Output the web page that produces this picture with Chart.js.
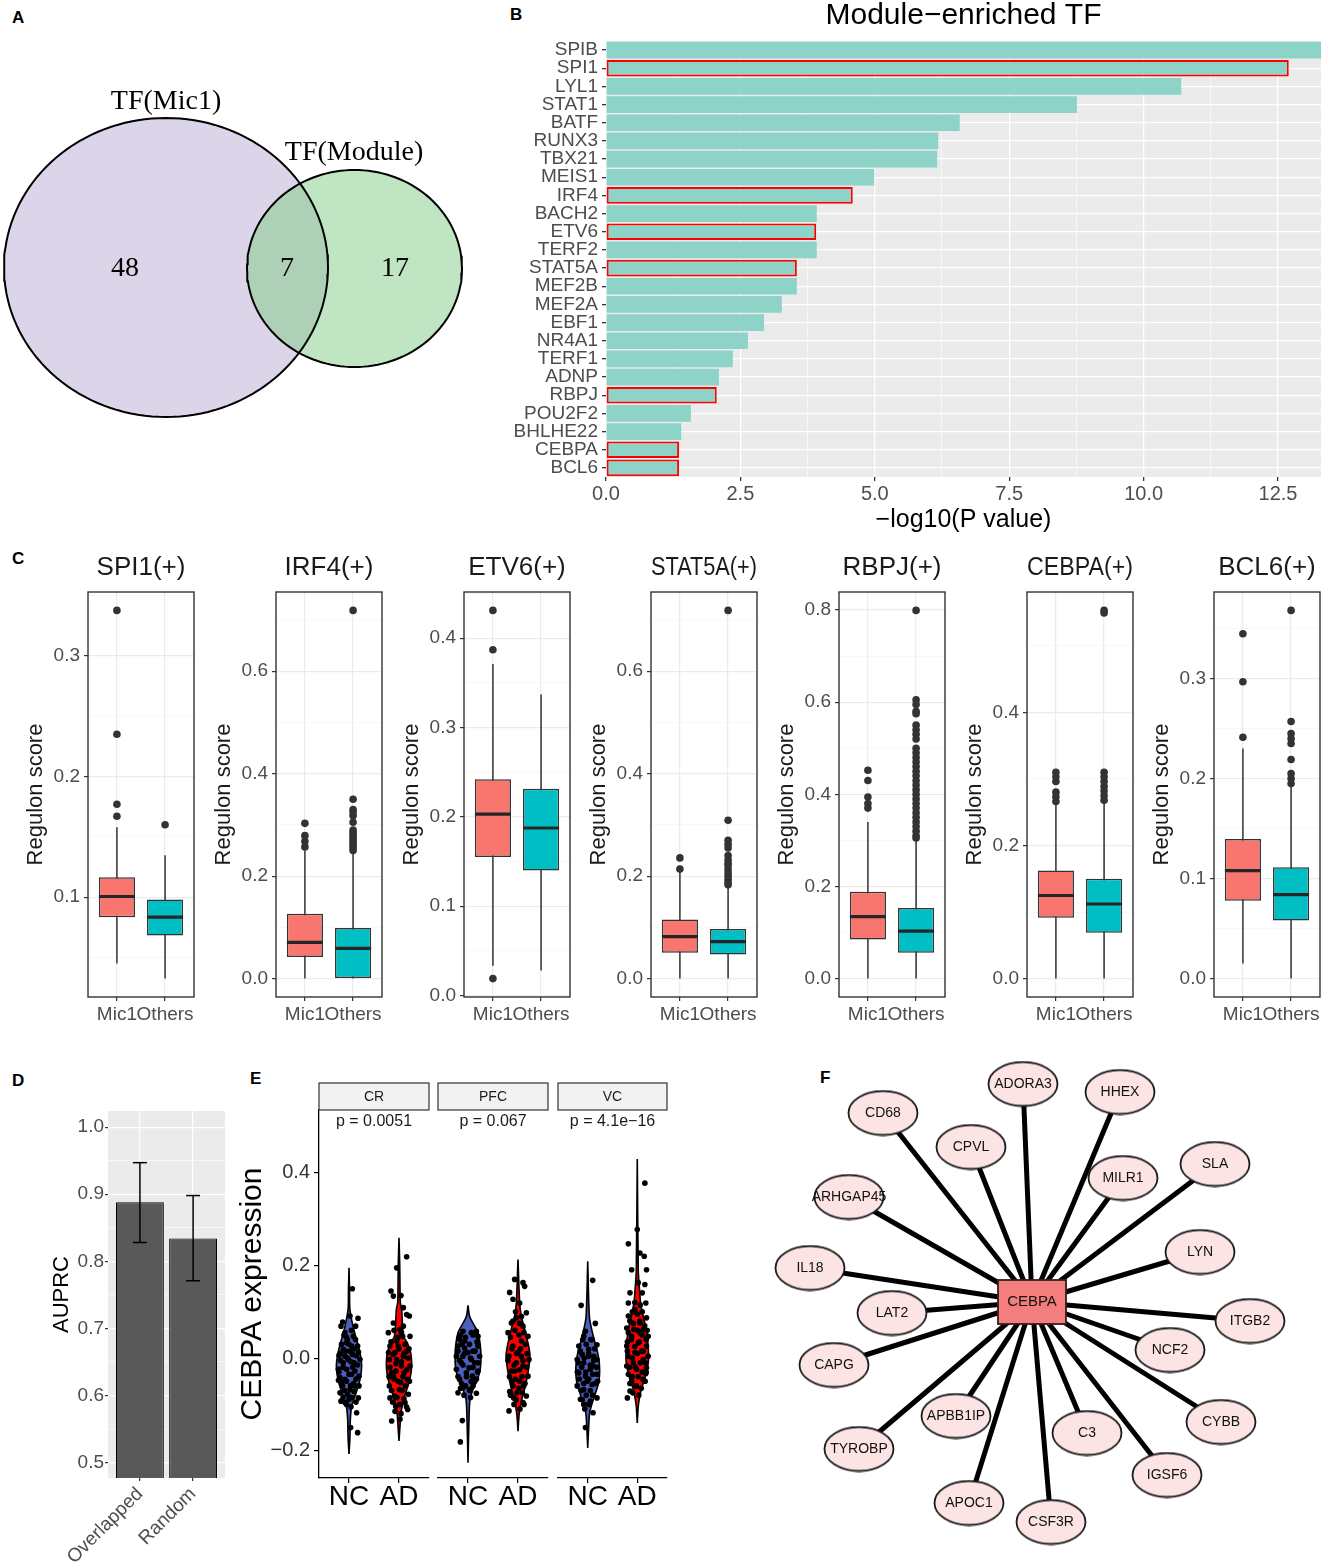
<!DOCTYPE html>
<html>
<head>
<meta charset="utf-8">
<script src="https://cdn.jsdelivr.net/npm/chart.js@4.4.1/dist/chart.umd.min.js"></script>
<style>
  body { margin: 0; background: #fff; }
  #fig { position: relative; width: 1325px; height: 1562px; overflow: hidden; background: #fff; }
  .tag { position: absolute; font: bold 17px 'Liberation Sans', Arial, sans-serif; line-height: 17px; color: #000; }
</style>
</head>
<body>
<div id="fig">
  <div class="tag" style="left:12px;top:9px">A</div>
  <div class="tag" style="left:510px;top:6px">B</div>
  <div class="tag" style="left:12px;top:550px">C</div>
  <div class="tag" style="left:12px;top:1072px">D</div>
  <div class="tag" style="left:250px;top:1070px">E</div>
  <div class="tag" style="left:820px;top:1069px">F</div>
</div>
<script>
// ---------- data ----------

// A: Venn counts
const vennSetNames = ['TF(Mic1)', 'TF(Module)'];
const vennCounts = [48, 7, 17]; // Mic1 only, both, Module only

// B: module-enriched TF
const tfNames = ['SPIB', 'SPI1', 'LYL1', 'STAT1', 'BATF', 'RUNX3', 'TBX21', 'MEIS1', 'IRF4', 'BACH2', 'ETV6', 'TERF2',
  'STAT5A', 'MEF2B', 'MEF2A', 'EBF1', 'NR4A1', 'TERF1', 'ADNP', 'RBPJ', 'POU2F2', 'BHLHE22', 'CEBPA', 'BCL6'];
const tfLogP = [13.3, 12.7, 10.7, 8.76, 6.58, 6.18, 6.16, 4.99, 4.59, 3.92, 3.91, 3.92,
  3.55, 3.55, 3.27, 2.94, 2.64, 2.36, 2.10, 2.06, 1.58, 1.40, 1.36, 1.36];
const tfOverlap = ['SPI1', 'IRF4', 'ETV6', 'STAT5A', 'RBPJ', 'CEBPA', 'BCL6'];
const xTicksB = [0, 1.25, 2.5, 3.75, 5, 6.25, 7.5, 8.75, 10, 11.25, 12.5];

// C: regulon score boxplots  [Mic1, Others]
const regulons = ['SPI1(+)', 'IRF4(+)', 'ETV6(+)', 'STAT5A(+)', 'RBPJ(+)', 'CEBPA(+)', 'BCL6(+)'];
const groups = ['Mic1', 'Others'];
const boxLow  = [[0.045, 0.0326], [0, 0], [0.0335, 0.028], [0, 0], [0, 0], [0, 0], [0.015, 0]];
const boxQ1   = [[0.0835, 0.0683], [0.042, 0.0], [0.155, 0.140], [0.0506, 0.047], [0.085, 0.056], [0.0913, 0.069], [0.0777, 0.058]];
const boxMed  = [[0.1006, 0.0835], [0.0707, 0.059], [0.203, 0.1875], [0.0818, 0.072], [0.1345, 0.103], [0.1248, 0.112], [0.108, 0.084]];
const boxQ3   = [[0.1165, 0.098], [0.1265, 0.0986], [0.242, 0.2315], [0.1155, 0.097], [0.1885, 0.153], [0.1622, 0.150], [0.1394, 0.1114]];
const boxHigh = [[0.158, 0.1347], [0.25, 0.245], [0.371, 0.337], [0.2095, 0.18], [0.34, 0.301], [0.2637, 0.265], [0.23, 0.193]];
const outMic1 = [
  [0.3375, 0.235, 0.177, 0.167],
  [0.303, 0.279, 0.268, 0.257],
  [0.431, 0.387, 0.019],
  [0.2356, 0.214],
  [0.452, 0.430, 0.394, 0.38, 0.37],
  [0.31, 0.303, 0.296, 0.28, 0.273, 0.266],
  [0.3446, 0.2967, 0.2412]
];
const outOthers = [
  [0.160],
  [0.7186, 0.35, 0.33, 0.325, 0.318, 0.305, 0.29, 0.285, 0.28, 0.275, 0.27, 0.265, 0.26, 0.255, 0.25],
  [],
  [0.7186, 0.309, 0.27, 0.262, 0.255, 0.24, 0.232, 0.225, 0.22, 0.213, 0.206, 0.2, 0.194, 0.188, 0.183],
  [0.799, 0.605, 0.595, 0.58, 0.575, 0.55, 0.54, 0.53, 0.52, 0.5, 0.49, 0.48, 0.47, 0.46, 0.45, 0.44, 0.43,
   0.42, 0.41, 0.40, 0.39, 0.38, 0.37, 0.36, 0.35, 0.34, 0.33, 0.32, 0.31, 0.305],
  [0.553, 0.549, 0.31, 0.303, 0.296, 0.289, 0.282, 0.275, 0.268],
  [0.368, 0.257, 0.245, 0.24, 0.235, 0.219, 0.205, 0.2, 0.195]
];
const majorStepC = [0.1, 0.2, 0.1, 0.2, 0.2, 0.2, 0.1];

// D: AUPRC
const methods = ['Overlapped', 'Random'];
const auprc = [0.888, 0.834];
const auprcLo = [0.828, 0.771];
const auprcHi = [0.947, 0.898];

// E: CEBPA expression by region
const regions = ['CR', 'PFC', 'VC'];
const pLabels = ['p = 0.0051', 'p = 0.067', 'p = 4.1e\u221216'];
const conds = ['NC', 'AD'];
// violin outlines: [value, half width in group units]
const violinNC = [
  [[0.195, 0], [0.15, 0.01], [0.11, 0.015], [0.09, 0.04], [0.069, 0.08], [0.047, 0.133], [0.026, 0.187], [0.004, 0.233],
   [-0.017, 0.253], [-0.039, 0.233], [-0.06, 0.187], [-0.082, 0.12], [-0.104, 0.053], [-0.132, 0.027], [-0.168, 0.02], [-0.207, 0]],
  [[0.114, 0], [0.09, 0.033], [0.069, 0.133], [0.055, 0.2], [0.033, 0.24], [0.004, 0.26], [-0.024, 0.245], [-0.046, 0.19],
   [-0.068, 0.1], [-0.089, 0.04], [-0.132, 0.02], [-0.226, 0]],
  [[0.209, 0], [0.09, 0.033], [0.062, 0.08], [0.033, 0.147], [0.012, 0.2], [-0.01, 0.233], [-0.032, 0.24], [-0.053, 0.22],
   [-0.075, 0.16], [-0.096, 0.093], [-0.118, 0.04], [-0.147, 0.02], [-0.194, 0]]
];
const violinAD = [
  [[0.26, 0], [0.2, 0.015], [0.15, 0.02], [0.12, 0.027], [0.105, 0.053], [0.076, 0.067], [0.047, 0.093], [0.033, 0.167],
   [0.012, 0.233], [-0.01, 0.253], [-0.032, 0.24], [-0.053, 0.2], [-0.075, 0.133], [-0.096, 0.08], [-0.118, 0.04], [-0.147, 0.02], [-0.179, 0]],
  [[0.213, 0], [0.12, 0.033], [0.09, 0.067], [0.069, 0.12], [0.047, 0.167], [0.026, 0.213], [0.004, 0.24], [-0.017, 0.22],
   [-0.039, 0.187], [-0.06, 0.147], [-0.082, 0.093], [-0.104, 0.047], [-0.125, 0.02], [-0.158, 0]],
  [[0.43, 0], [0.19, 0.02], [0.155, 0.04], [0.12, 0.067], [0.09, 0.12], [0.069, 0.167], [0.047, 0.2], [0.026, 0.22],
   [-0.003, 0.227], [-0.024, 0.2], [-0.046, 0.147], [-0.068, 0.08], [-0.089, 0.04], [-0.104, 0.02], [-0.14, 0]]
];
// jittered samples: [x offset from group centre, value]
const pointsNC = [
  [[.067,.150],[.18,.086],[-.127,.078],[-.16,.069],[.02,.091],[.133,.069],[-.08,.055],[.087,.047],[-.047,.033],[.173,.026],
   [-.2,.006],[.22,-.003],[-.213,-.024],[.2,-.039],[-.147,-.053],[.12,-.060],[-.18,-.075],[.187,-.086],[-.16,-.093],[.153,-.118],
   [.033,-.150],[.173,-.161],[-.08,.004],[.02,.015],[.1,-.010],[-.047,-.024],[.053,-.035],[-.08,-.046],[.02,-.068],[-.113,-.010],
   [-.013,-.003],[.073,.008],[-.033,.040],[.053,.026],[-.113,.019],[.12,-.028],[-.18,-.042],[0,-.089],[-.08,-.096],
   [-.1,.05],[.05,.06],[-.05,.045],[.13,.04],[-.15,.03],[0,.03],[.1,.02],[-.07,.015],[.15,.005],[-.17,-.005],
   [.04,-.008],[-.03,.0],[.17,-.015],[-.12,-.02],[.07,-.02],[-.2,-.03],[0,-.035],[.14,-.045],[-.05,-.05],[.09,-.055],
   [-.13,-.06],[.03,-.06],[-.09,-.07],[.1,-.072],[-.03,-.078],[.05,-.085],[-.12,-.085],[.14,-.095],[-.05,-.1],[.04,-.105],
   [-.17,.01],[.19,.013],[-.21,-.048],[.2,-.06]],
  [[-.167,.047],[-.1,.058],[.167,.058],[.2,.047],[.067,.055],[-.2,.026],[.2,.026],[-.067,.037],[-.233,.004],[.233,.004],
   [0,.012],[-.133,-.010],[.133,-.010],[-.233,-.024],[.2,-.028],[-.033,-.032],[-.167,-.046],[.133,-.050],[-.2,-.075],[.167,-.076],
   [-.1,-.064],[.033,-.068],[-.113,-.135],[-.153,-.181],[.067,-.003],[-.1,.004],[.1,.015],[.02,-.021],[-.067,.022],[.087,-.039],
   [-.15,.05],[.1,.05],[-.05,.045],[.18,.035],[-.12,.03],[.03,.03],[-.2,.015],[.14,.015],[-.07,.01],[.05,.0],
   [-.17,-.005],[.2,-.01],[-.1,-.015],[.1,-.02],[-.03,-.04],[-.2,-.04],[.17,-.045],[.06,-.05],[-.13,-.055],[-.05,-.06],
   [.1,-.06],[-.15,-.065],[.03,-.07],[-.08,-.08],[.05,-.085],[-.17,.04],[.19,-.03]],
  [[.1,.168],[-.133,.114],[-.047,.058],[.153,.075],[-.08,.047],[.087,.040],[.187,.029],[-.18,.026],[.02,.019],[-.213,-.003],
   [.187,-.003],[-.08,-.010],[.107,-.017],[-.18,-.032],[.187,-.035],[-.047,-.039],[-.213,-.060],[.087,-.057],[-.08,-.068],[.187,-.086],
   [-.147,-.089],[.053,-.093],[-.08,-.100],[.107,-.118],[-.047,-.150],[.02,.004],[-.113,.008],[.053,-.024],[-.013,-.050],[.12,.004],
   [-.1,.04],[.06,.04],[-.03,.03],[.14,.02],[-.15,.015],[.02,.01],[-.07,.0],[.12,-.005],[-.19,-.01],[.05,-.015],
   [-.12,-.02],[.18,-.02],[-.04,-.03],[.1,-.035],[-.17,-.045],[.02,-.045],[-.08,-.055],[.15,-.055],[-.13,-.07],[.05,-.07],
   [-.03,-.08],[.1,-.08],[-.11,-.09],[.02,-.1],[-.06,-.11],[.2,-.05],[-.21,-.03]]
];
const pointsAD = [
  [[.153,.219],[-.047,.195],[-.16,.145],[-.113,.134],[.04,.135],[.087,.109],[.153,.094],[-.113,.076],[.207,.091],[.087,.069],
   [-.213,.055],[.22,.047],[-.18,.026],[.153,.015],[-.193,-.003],[.22,-.017],[-.147,-.032],[.167,-.046],[-.193,-.060],[.187,-.078],
   [-.18,-.086],[.12,-.096],[-.067,-.104],[.173,-.111],[-.147,-.136],[.02,-.132],[-.047,-.003],[.053,-.017],[-.08,.012],[.087,.004],
   [-.013,.026],[-.113,-.039],[.033,-.053],[-.06,-.028],[.1,-.032],[.007,-.068],[-.093,-.082],[.073,.047],[-.047,.037],[.02,.062],
   [-.1,.06],[.05,.055],[-.02,.045],[.12,.03],[-.16,.035],[0,.02],[.1,.01],[-.12,.008],[.18,.0],[-.21,.012],
   [.05,-.008],[-.06,-.012],[.16,-.025],[-.18,-.02],[.08,-.04],[-.1,-.045],[-.02,-.05],[.13,-.06],[-.15,-.07],[.06,-.07],
   [-.04,-.085],[.1,-.088],[-.13,-.095],[.02,-.1],[.15,-.105],[-.08,-.115],[.04,-.12],[.2,.02],[-.2,-.04],[.21,-.05]],
  [[-.067,.170],[.1,.163],[.133,.155],[-.167,.142],[-.1,.127],[.033,.119],[.167,.098],[-.033,.087],[-.133,.076],[.1,.069],
   [-.2,.055],[.2,.047],[.067,.037],[-.1,.026],[-.18,.004],[.22,-.003],[-.033,-.010],[.1,-.017],[-.133,-.028],[.2,-.039],
   [.033,-.050],[-.167,-.072],[.113,-.060],[.167,-.082],[-.087,-.086],[.1,-.096],[-.18,-.114],[0,.012],[-.067,-.028],[.067,.004],
   [-.1,-.060],[-.02,-.075],
   [-.05,.1],[.07,.09],[-.1,.08],[.03,.075],[-.06,.06],[.12,.055],[-.15,.045],[.02,.05],[.15,.03],[-.12,.02],
   [.05,.02],[-.03,.01],[.18,.01],[-.2,-.005],[.1,-.005],[-.08,-.015],[.03,-.025],[.17,-.02],[-.17,-.04],[.08,-.04],
   [-.05,-.045],[.14,-.055],[-.12,-.05],[.02,-.065],[-.15,-.08],[.09,-.075],[-.04,-.09],[.12,-.1],[-.08,-.1],[.04,-.11]],
  [[.153,.378],[0,.278],[-.18,.247],[.053,.227],[.14,.220],[-.113,.191],[.187,.191],[.02,.163],[.153,.159],[-.147,.141],
   [.1,.141],[-.18,.119],[.173,.119],[-.047,.105],[-.18,.091],[.187,.087],[.053,.076],[-.213,.065],[.12,.062],[.22,.047],
   [-.113,.047],[-.213,.026],[.187,.026],[.02,.033],[-.18,.004],[.22,.004],[-.047,.012],[.12,-.003],[-.213,-.017],[.187,-.021],
   [-.013,-.024],[-.18,-.035],[.173,-.033],[-.113,-.050],[.12,-.046],[-.147,-.071],[-.027,-.060],[-.2,-.086],[.053,.055],[-.08,-.010],
   [.087,.015],[-.067,.062],
   [-.05,.12],[.06,.115],[-.1,.1],[.1,.1],[0,.095],[-.15,.08],[.05,.08],[.15,.07],[-.08,.075],[-.18,.055],
   [0,.06],[.1,.05],[-.12,.04],[.18,.04],[.04,.035],[-.05,.025],[-.2,.015],[.12,.015],[0,.01],[-.1,.0],
   [.16,-.01],[.06,-.01],[-.16,-.02],[-.04,-.02],[.1,-.03],[-.1,-.04],[.02,-.04],[.16,-.05],[-.15,-.055],[-.02,-.06],
   [.08,-.065],[-.09,-.075],[.03,-.08],[.2,.06],[-.2,.035],[.18,-.03]]
];

// F: CEBPA regulon network (layout coordinates)
const hubGene = 'CEBPA';
const hubPos = [1032, 1302];
const targetGenes = ['ADORA3', 'HHEX', 'CD68', 'CPVL', 'SLA', 'MILR1', 'ARHGAP45', 'LYN', 'IL18', 'LAT2',
  'ITGB2', 'NCF2', 'CAPG', 'APBB1IP', 'C3', 'CYBB', 'TYROBP', 'IGSF6', 'APOC1', 'CSF3R'];
const layoutX = [1023, 1120, 883, 971, 1215, 1123, 849, 1200, 810, 892, 1250, 1170, 834, 956, 1087, 1221, 859, 1167, 969, 1051];
const layoutY = [1084, 1092, 1113, 1147, 1164, 1178, 1197, 1252, 1268, 1313, 1321, 1350, 1365, 1416, 1433, 1422, 1449, 1475, 1503, 1522];

// ---------- helpers ----------
const fontSans = "'Liberation Sans', Arial, Helvetica, sans-serif";
const fontSerif = "'Liberation Serif', 'Times New Roman', serif";
Chart.defaults.font.family = fontSans;
Chart.defaults.color = '#4d4d4d';
Chart.defaults.animation = false;
Chart.defaults.events = [];
Chart.defaults.layout.autoPadding = false;
Chart.defaults.plugins.legend.display = false;
Chart.defaults.plugins.tooltip.enabled = false;

const fig = document.getElementById('fig');
function makeCanvas(left, top, width, height) {
  const c = document.createElement('canvas');
  c.width = width;
  c.height = height;
  c.style.cssText = `position:absolute;left:${left}px;top:${top}px;width:${width}px;height:${height}px`;
  fig.appendChild(c);
  return c;
}

function panelBg(color) {
  return {
    id: 'panelBg',
    beforeDraw(chart) {
      const { ctx, chartArea: a } = chart;
      ctx.save();
      ctx.fillStyle = color;
      ctx.fillRect(a.left, a.top, a.width, a.height);
      ctx.restore();
    }
  };
}

const panelBorder = {
  id: 'panelBorder',
  afterDatasetsDraw(chart) {
    const { ctx, chartArea: a } = chart;
    ctx.save();
    ctx.strokeStyle = '#333';
    ctx.lineWidth = 1.4;
    ctx.strokeRect(a.left, a.top, a.width, a.height);
    ctx.restore();
  }
};

function textLayer(items) {
  return {
    id: 'textLayer',
    afterDraw(chart) {
      const { ctx, chartArea, scales } = chart;
      items.forEach(it => {
        let x = it.x, y = it.y;
        if (it.space === 'data') {
          x = scales.x.getPixelForValue(it.x);
          y = scales.y.getPixelForValue(it.y);
        } else if (it.x === 'mid') {
          x = (chartArea.left + chartArea.right) / 2;
        }
        ctx.save();
        ctx.font = it.font;
        ctx.fillStyle = it.color || '#000';
        ctx.textAlign = 'center';
        ctx.textBaseline = 'middle';
        ctx.fillText(it.text, x, y);
        ctx.restore();
      });
    }
  };
}

function stripLayer(label, ptext) {
  return {
    id: 'strip',
    afterDraw(chart) {
      const { ctx, chartArea: a } = chart;
      const mid = (a.left + a.right) / 2;
      ctx.save();
      ctx.fillStyle = '#f2f2f2';
      ctx.fillRect(a.left, 8, a.width, 27);
      ctx.strokeStyle = '#333';
      ctx.lineWidth = 1.2;
      ctx.strokeRect(a.left, 8, a.width, 27);
      ctx.fillStyle = '#1a1a1a';
      ctx.textAlign = 'center';
      ctx.textBaseline = 'middle';
      ctx.font = `14px ${fontSans}`;
      ctx.fillText(label, mid, 22);
      ctx.font = `16px ${fontSans}`;
      ctx.fillText(ptext, mid, a.top + 12);
      ctx.restore();
    }
  };
}

const isMult = (v, step) => Math.abs(v / step - Math.round(v / step)) < 1e-6;
const minus = v => (v < -1e-9 ? '\u2212' : '') + Math.abs(v).toFixed(1);

// ---------- A: Venn ----------
const vennShape = [{ cx: 166, cy: 267.5, rx: 162, ry: 149.5 }, { cx: 354.5, cy: 268.5, rx: 107.5, ry: 98.5 }];
function ellipsePoints(e) {
  const pts = [];
  for (let k = 0; k <= 144; k++) {
    const t = k / 144 * 2 * Math.PI;
    pts.push({ x: e.cx + e.rx * Math.cos(t), y: e.cy + e.ry * Math.sin(t) });
  }
  return pts;
}
new Chart(makeCanvas(0, 0, 480, 425), {
  type: 'scatter',
  data: {
    datasets: [
      { type: 'line', data: ellipsePoints(vennShape[0]), borderColor: '#000', borderWidth: 2, fill: false, pointRadius: 0 },
      { type: 'line', data: ellipsePoints(vennShape[1]), borderColor: '#000', borderWidth: 2,
        backgroundColor: 'rgba(127,203,133,0.5)', fill: 'shape', pointRadius: 0 },
      { type: 'line', data: ellipsePoints(vennShape[0]), borderColor: 'rgba(0,0,0,0)', borderWidth: 0,
        backgroundColor: '#dcd4e8', fill: 'shape', pointRadius: 0 }
    ]
  },
  options: {
    responsive: false,
    layout: { padding: 0 },
    scales: {
      x: { type: 'linear', display: false, min: 0, max: 480 },
      y: { type: 'linear', display: false, min: 0, max: 425, reverse: true }
    }
  },
  plugins: [textLayer([
    { text: vennSetNames[0], x: 166, y: 102, space: 'data', font: `28px ${fontSerif}` },
    { text: vennSetNames[1], x: 354, y: 153, space: 'data', font: `28px ${fontSerif}` },
    { text: String(vennCounts[0]), x: 125, y: 269, space: 'data', font: `28px ${fontSerif}` },
    { text: String(vennCounts[1]), x: 287, y: 269, space: 'data', font: `28px ${fontSerif}` },
    { text: String(vennCounts[2]), x: 395, y: 269, space: 'data', font: `28px ${fontSerif}` }
  ])]
});

// ---------- B: enriched TF bars ----------
new Chart(makeCanvas(500, 0, 825, 540), {
  type: 'bar',
  data: {
    labels: tfNames,
    datasets: [{
      data: tfLogP,
      backgroundColor: '#8dd3c7',
      borderColor: tfNames.map(n => tfOverlap.includes(n) ? '#ff0000' : 'rgba(0,0,0,0)'),
      borderWidth: tfNames.map(n => tfOverlap.includes(n) ? 2 : 0),
      borderSkipped: false,
      barPercentage: 0.92,
      categoryPercentage: 1
    }]
  },
  options: {
    responsive: false,
    indexAxis: 'y',
    layout: { padding: { top: 41, right: 4, left: 0, bottom: 0 } },
    scales: {
      x: {
        type: 'linear', min: 0, max: 13.3,
        afterBuildTicks: s => { s.ticks = xTicksB.map(v => ({ value: v })); },
        ticks: { callback: v => isMult(v, 2.5) ? v.toFixed(1) : '', font: { size: 20 }, color: '#4d4d4d', padding: 1, autoSkip: false, maxRotation: 0 },
        grid: {
          color: '#ffffff',
          lineWidth: c => isMult(c.tick.value, 2.5) ? 1.3 : 0.6,
          tickColor: c => isMult(c.tick.value, 2.5) ? '#333' : 'rgba(0,0,0,0)',
          tickLength: 4
        },
        border: { display: false },
        title: { display: true, text: '\u2212log10(P value)', font: { size: 25 }, color: '#000', padding: { top: 0, bottom: 5 } },
        afterFit: s => { s.height = 63; }
      },
      y: {
        ticks: { font: { size: 19 }, color: '#4d4d4d', padding: 4, autoSkip: false },
        grid: { color: '#ffffff', lineWidth: 1.3, offset: false, tickColor: '#333', tickLength: 4 },
        border: { display: false },
        afterFit: s => { s.width = 106; }
      }
    }
  },
  plugins: [panelBg('#ebebeb'), textLayer([{ text: 'Module\u2212enriched TF', x: 'mid', y: 16, font: `30px ${fontSans}`, color: '#000' }])]
});

// ---------- C: regulon score boxplots ----------
const panelLeftC = [88, 276, 464, 651, 839, 1027, 1214];
const groupColors = ['#f8766d', '#00bfc4'];
regulons.forEach((name, i) => {
  const allVals = [...boxLow[i], ...boxHigh[i], ...outMic1[i], ...outOthers[i]];
  const lo = Math.min(...allVals), hi = Math.max(...allVals);
  const pad = (hi - lo) * 0.05;
  const major = majorStepC[i];
  const gx = [1, 2];
  new Chart(makeCanvas(panelLeftC[i] - 75, 540, 184, 500), {
    type: 'bar',
    data: {
      datasets: [
        { type: 'line', data: gx.map((x, g) => ({ x, y: boxMed[i][g] })), showLine: false,
          pointStyle: 'line', pointRadius: 18, pointBorderWidth: 3.2, pointBorderColor: '#262626' },
        { type: 'line', data: [...outMic1[i].map(y => ({ x: 1, y })), ...outOthers[i].map(y => ({ x: 2, y }))], showLine: false,
          pointRadius: 3.8, pointBackgroundColor: '#333', pointBorderColor: '#333', pointBorderWidth: 0 },
        { type: 'bar', data: gx.map((x, g) => ({ x, y: [boxQ1[i][g], boxQ3[i][g]] })),
          backgroundColor: groupColors, borderColor: '#333', borderWidth: 1.5, borderSkipped: false,
          barPercentage: 0.75, categoryPercentage: 1, grouped: false },
        ...gx.map((x, g) => ({ type: 'line', data: [{ x, y: boxLow[i][g] }, { x, y: boxHigh[i][g] }],
          borderColor: '#333', borderWidth: 1.5, pointRadius: 0 }))
      ]
    },
    options: {
      responsive: false,
      layout: { padding: { left: 0, right: 3, top: 0, bottom: 0 } },
      scales: {
        x: {
          type: 'linear', min: 0.4, max: 2.6, offset: false,
          afterBuildTicks: s => { s.ticks = gx.map(v => ({ value: v })); },
          ticks: { callback: v => groups[Math.round(v) - 1], font: { size: 19 }, color: '#4d4d4d', padding: 2, autoSkip: false, maxRotation: 0 },
          grid: { color: '#ebebeb', lineWidth: 1.2, offset: false, tickColor: '#333', tickLength: 4 },
          border: { display: false },
          afterFit: s => { s.height = 43; }
        },
        y: {
          type: 'linear', min: lo - pad, max: hi + pad,
          afterBuildTicks: s => {
            const step = major / 2, t = [];
            for (let k = Math.ceil(s.min / step - 1e-9); k * step <= s.max + 1e-9; k++) t.push({ value: +(k * step).toFixed(6) });
            s.ticks = t;
          },
          ticks: { callback: v => isMult(v, major) ? v.toFixed(1) : '', font: { size: 19 }, color: '#4d4d4d', padding: 4, autoSkip: false },
          grid: {
            color: c => isMult(c.tick.value, major) ? '#ebebeb' : '#f3f3f3',
            lineWidth: c => isMult(c.tick.value, major) ? 1.2 : 0.7,
            tickColor: c => isMult(c.tick.value, major) ? '#333' : 'rgba(0,0,0,0)',
            tickLength: 4
          },
          border: { display: false },
          title: { display: true, text: 'Regulon score', font: { size: 22 }, color: '#1a1a1a', padding: { top: 10, bottom: 0 } },
          afterFit: s => { s.width = 75; }
        }
      },
      plugins: {
        title: { display: true, text: name, fullSize: false, font: { size: 26, weight: 'normal' }, color: '#1a1a1a', padding: { top: 12, bottom: 8.8 } }
      }
    },
    plugins: [panelBorder]
  });
});

// ---------- D: AUPRC ----------
new Chart(makeCanvas(0, 1070, 235, 492), {
  type: 'bar',
  data: {
    datasets: [
      ...methods.map((m, k) => ({ type: 'line', data: [{ x: k + 1, y: auprcLo[k] }, { x: k + 1, y: auprcHi[k] }],
        borderColor: '#000', borderWidth: 1.5, pointStyle: 'line', pointRadius: 7, pointBorderWidth: 1.5, pointBorderColor: '#000' })),
      { type: 'bar', data: methods.map((m, k) => ({ x: k + 1, y: auprc[k] })), backgroundColor: '#595959',
        borderColor: '#000', borderWidth: 1, borderSkipped: false, barPercentage: 0.9, categoryPercentage: 1 }
    ]
  },
  options: {
    responsive: false,
    layout: { padding: { left: 0, right: 10, top: 41, bottom: 0 } },
    scales: {
      x: {
        type: 'linear', min: 0.4, max: 2.6, offset: false,
        afterBuildTicks: s => { s.ticks = [{ value: 1 }, { value: 2 }]; },
        ticks: { callback: v => methods[Math.round(v) - 1], font: { size: 19 }, color: '#4d4d4d', padding: 2, autoSkip: false, minRotation: 45, maxRotation: 45 },
        grid: { color: '#ffffff', lineWidth: 1.2, offset: false, tickColor: '#333', tickLength: 3 },
        border: { display: false },
        afterFit: s => { s.height = 84; }
      },
      y: {
        type: 'linear', min: 0.477, max: 1.024,
        afterBuildTicks: s => {
          const t = [];
          for (let k = 10; k <= 20; k++) t.push({ value: +(k * 0.05).toFixed(3) });
          s.ticks = t;
        },
        ticks: { callback: v => isMult(v, 0.1) ? v.toFixed(1) : '', font: { size: 19 }, color: '#4d4d4d', padding: 1, autoSkip: false },
        grid: {
          color: '#ffffff',
          lineWidth: c => isMult(c.tick.value, 0.1) ? 1.2 : 0.6,
          tickColor: c => isMult(c.tick.value, 0.1) ? '#333' : 'rgba(0,0,0,0)',
          tickLength: 3
        },
        border: { display: false },
        title: { display: true, text: 'AUPRC', font: { size: 22 }, color: '#000', padding: { top: 49, bottom: 0 } },
        afterFit: s => { s.width = 108; }
      }
    }
  },
  plugins: [panelBg('#ebebeb')]
});

// ---------- E: violins ----------
function violinPolygon(centre, profile) {
  const right = profile.map(([y, w]) => ({ x: centre + w, y }));
  const left = profile.slice().reverse().map(([y, w]) => ({ x: centre - w, y }));
  return right.concat(left);
}
const eLeft = [235, 432, 551];
const ePadLeft = [0, 6, 7];
const eWidth = [197, 119, 119];
regions.forEach((reg, r) => {
  const first = r === 0;
  new Chart(makeCanvas(eLeft[r], 1075, eWidth[r], 455), {
    type: 'scatter',
    data: {
      datasets: [
        { data: pointsAD[r].map(([dx, y]) => ({ x: 2 + dx, y })), pointRadius: 2.8, pointBackgroundColor: '#000', pointBorderWidth: 0 },
        { data: pointsNC[r].map(([dx, y]) => ({ x: 1 + dx, y })), pointRadius: 2.8, pointBackgroundColor: '#000', pointBorderWidth: 0 },
        { type: 'line', data: violinPolygon(2, violinAD[r]), borderColor: '#000', borderWidth: 1.6, backgroundColor: '#ff0000',
          fill: 'shape', pointRadius: 0, tension: 0.3 },
        { type: 'line', data: violinPolygon(1, violinNC[r]), borderColor: '#000', borderWidth: 1.6, backgroundColor: '#4a5fbf',
          fill: 'shape', pointRadius: 0, tension: 0.3 }
      ]
    },
    options: {
      responsive: false,
      layout: { padding: { left: ePadLeft[r], right: 3, top: 35, bottom: 0 } },
      scales: {
        x: {
          type: 'linear', min: 0.4, max: 2.6,
          afterBuildTicks: s => { s.ticks = [{ value: 1 }, { value: 2 }]; },
          ticks: { callback: v => conds[Math.round(v) - 1], font: { size: 28, lineHeight: 1 }, color: '#000', padding: 0, autoSkip: false, maxRotation: 0 },
          grid: { drawOnChartArea: false, color: '#000', tickColor: '#000', tickLength: 5, lineWidth: 1.2 },
          border: { display: true, color: '#000', width: 1.3 },
          afterFit: s => { s.height = 52; }
        },
        y: {
          type: 'linear', min: -0.259, max: 0.536, display: first,
          afterBuildTicks: s => { s.ticks = [-0.2, 0, 0.2, 0.4].map(v => ({ value: v })); },
          ticks: { callback: v => minus(v), font: { size: 20 }, color: '#333', padding: 4, autoSkip: false },
          grid: { drawOnChartArea: false, color: '#000', tickColor: '#000', tickLength: 5, lineWidth: 1.2 },
          border: { display: true, color: '#000', width: 1.3 },
          title: { display: true, text: 'CEBPA expression', font: { size: 30 }, color: '#000', padding: { top: 0, bottom: 0 } },
          afterFit: s => { s.width = first ? 84 : 0; }
        }
      }
    },
    plugins: [stripLayer(reg, pLabels[r])]
  });
});

// ---------- F: network ----------
function ellipseImage(w, h, fill, stroke) {
  const c = document.createElement('canvas');
  c.width = w; c.height = h;
  const g = c.getContext('2d');
  g.beginPath();
  g.ellipse(w / 2, h / 2, w / 2 - 1.5, h / 2 - 1.5, 0, 0, 2 * Math.PI);
  g.fillStyle = fill; g.fill();
  g.lineWidth = 1.8; g.strokeStyle = stroke; g.stroke();
  return c;
}
function rectImage(w, h, fill, stroke) {
  const c = document.createElement('canvas');
  c.width = w; c.height = h;
  const g = c.getContext('2d');
  g.fillStyle = fill; g.fillRect(1, 1, w - 2, h - 2);
  g.lineWidth = 1.8; g.strokeStyle = stroke; g.strokeRect(1, 1, w - 2, h - 2);
  return c;
}
const nodeImg = ellipseImage(72, 47, '#fde4e4', '#1a1a1a');
const hubImg = rectImage(70, 46, '#f47e7e', '#3a1a1a');
const edges = targetGenes.flatMap((g, k) => [
  { x: hubPos[0], y: hubPos[1] }, { x: layoutX[k], y: layoutY[k] }, { x: layoutX[k], y: null }
]);
new Chart(makeCanvas(760, 1060, 565, 502), {
  type: 'scatter',
  data: {
    datasets: [
      { data: [{ x: hubPos[0], y: hubPos[1] }], pointStyle: hubImg, pointRadius: 30, clip: false },
      { data: targetGenes.map((g, k) => ({ x: layoutX[k], y: layoutY[k] })), pointStyle: nodeImg, pointRadius: 30, clip: false },
      { type: 'line', data: edges, borderColor: '#000', borderWidth: 5, pointRadius: 0, spanGaps: false }
    ]
  },
  options: {
    responsive: false,
    layout: { padding: 0 },
    scales: {
      x: { type: 'linear', display: false, min: 760, max: 1325 },
      y: { type: 'linear', display: false, min: 1060, max: 1562, reverse: true }
    }
  },
  plugins: [textLayer([
    { text: hubGene, x: hubPos[0], y: hubPos[1], space: 'data', font: `15px ${fontSans}`, color: '#111' },
    ...targetGenes.map((g, k) => ({ text: g, x: layoutX[k], y: layoutY[k], space: 'data', font: `14px ${fontSans}`, color: '#111' }))
  ])]
});
</script>
</body>
</html>
